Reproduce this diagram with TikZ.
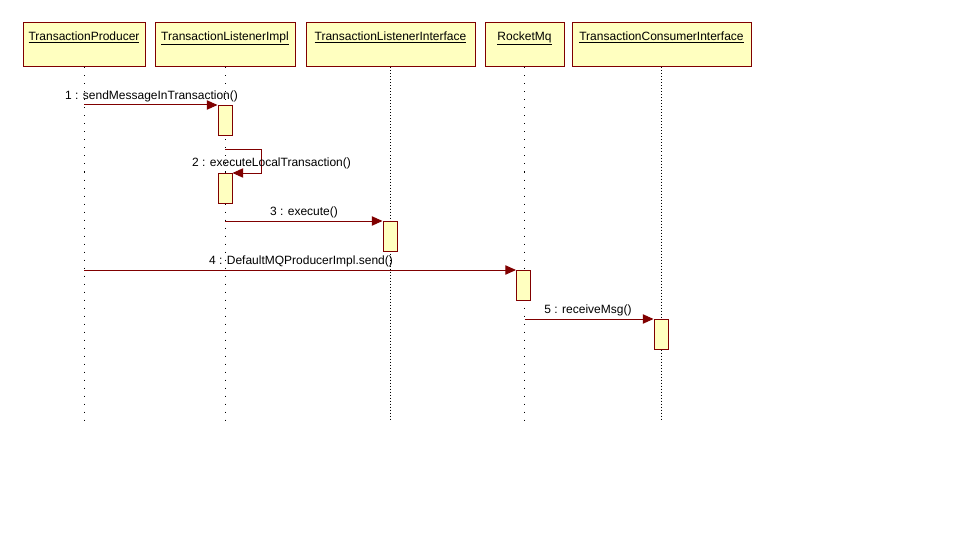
\documentclass[tikz,border=0pt]{standalone}
\usepackage{fontspec}
\setmainfont{Liberation Sans}
\usetikzlibrary{arrows.meta}

\definecolor{umlred}{RGB}{128,0,0}
\definecolor{umlfill}{RGB}{255,255,192}

\tikzset{
  obj/.style={draw=umlred, fill=umlfill, line width=0.75pt, inner sep=0pt, minimum height=33pt},
  objname/.style={anchor=north, inner sep=0pt, yshift=-6.5pt, font=\fontsize{9}{11}\selectfont},
  life/.style={line width=0.75pt, dash pattern=on 0.75pt off 5.25pt},
  denselife/.style={line width=0.75pt, dash pattern=on 0.75pt off 1.5pt},
  act/.style={draw=umlred, fill=umlfill, line width=0.75pt, inner sep=0pt, minimum width=10.5pt, minimum height=22.5pt, anchor=north},
  msg/.style={umlred, line width=0.75pt, -{Triangle[length=8pt,width=7pt]}},
  msglabel/.style={inner sep=0pt, font=\fontsize{9}{11}\selectfont},
}

\begin{document}
\begin{tikzpicture}[x=0.75pt,y=-0.75pt]
\useasboundingbox (0,0) rectangle (970,556);

% objects
\node[obj, minimum width=91.5pt]   (prod)     at (84,45)  {};
\node[obj, minimum width=105pt]    (impl)     at (225,45) {};
\node[obj, minimum width=126.75pt] (iface)    at (390.5,45) {};
\node[obj, minimum width=59.25pt]  (rocket)   at (524.5,45) {};
\node[obj, minimum width=134.25pt] (consumer) at (661.5,45) {};
\node[objname] (prodname)     at (prod.north)     {\underline{TransactionProducer}};
\node[objname] (implname)     at (impl.north)     {\underline{TransactionListenerImpl}};
\node[objname] (ifacename)    at (iface.north)    {\underline{TransactionListenerInterface}};
\node[objname] (rocketname)   at (rocket.north)   {\underline{RocketMq}};
\node[objname] (consumername) at (consumer.north) {\underline{TransactionConsumerInterface}};

% lifelines
\coordinate (prodend)     at (prod |- 0,420);
\coordinate (implend)     at (impl |- 0,420);
\coordinate (ifaceend)    at (iface |- 0,420);
\coordinate (rocketend)   at (rocket |- 0,420);
\coordinate (consumerend) at (consumer |- 0,420);
\draw[life]      (prod.south)     -- (prodend);
\draw[life]      (impl.south)     -- (implend);
\draw[denselife] (iface.south)    -- (ifaceend);
\draw[life]      (rocket.south)   -- (rocketend);
\draw[denselife] (consumer.south) -- (consumerend);

% activations
\node[act] (act1) at (225,105) {};
\node[act] (act2) at (225,173) {};
\node[act] (act3) at (390,221) {};
\node[act] (act4) at (523.5,270) {};
\node[act] (act5) at (661,319) {};

% messages
\draw[msg] (prod |- act1.north west) -- (act1.north west);
\node[msglabel] (m1) at (151.5,96) {1 : sendMessageInTransaction()};

\coordinate (self1) at (261,150);
\draw[msg] (impl |- self1) -- (self1) |- (act2.north east);
\node[msglabel] (m2) at (271.5,163) {2 : executeLocalTransaction()};

\draw[msg] (impl |- act3.north west) -- (act3.north west);
\node[msglabel] (m3) at (304,212) {3 : execute()};

\draw[msg] (prod |- act4.north west) -- (act4.north west);
\node[msglabel] (m4) at (301,261) {4 : DefaultMQProducerImpl.send()};

\draw[msg] (rocket |- act5.north west) -- (act5.north west);
\node[msglabel] (m5) at (588,310) {5 : receiveMsg()};
\end{tikzpicture}
\end{document}
